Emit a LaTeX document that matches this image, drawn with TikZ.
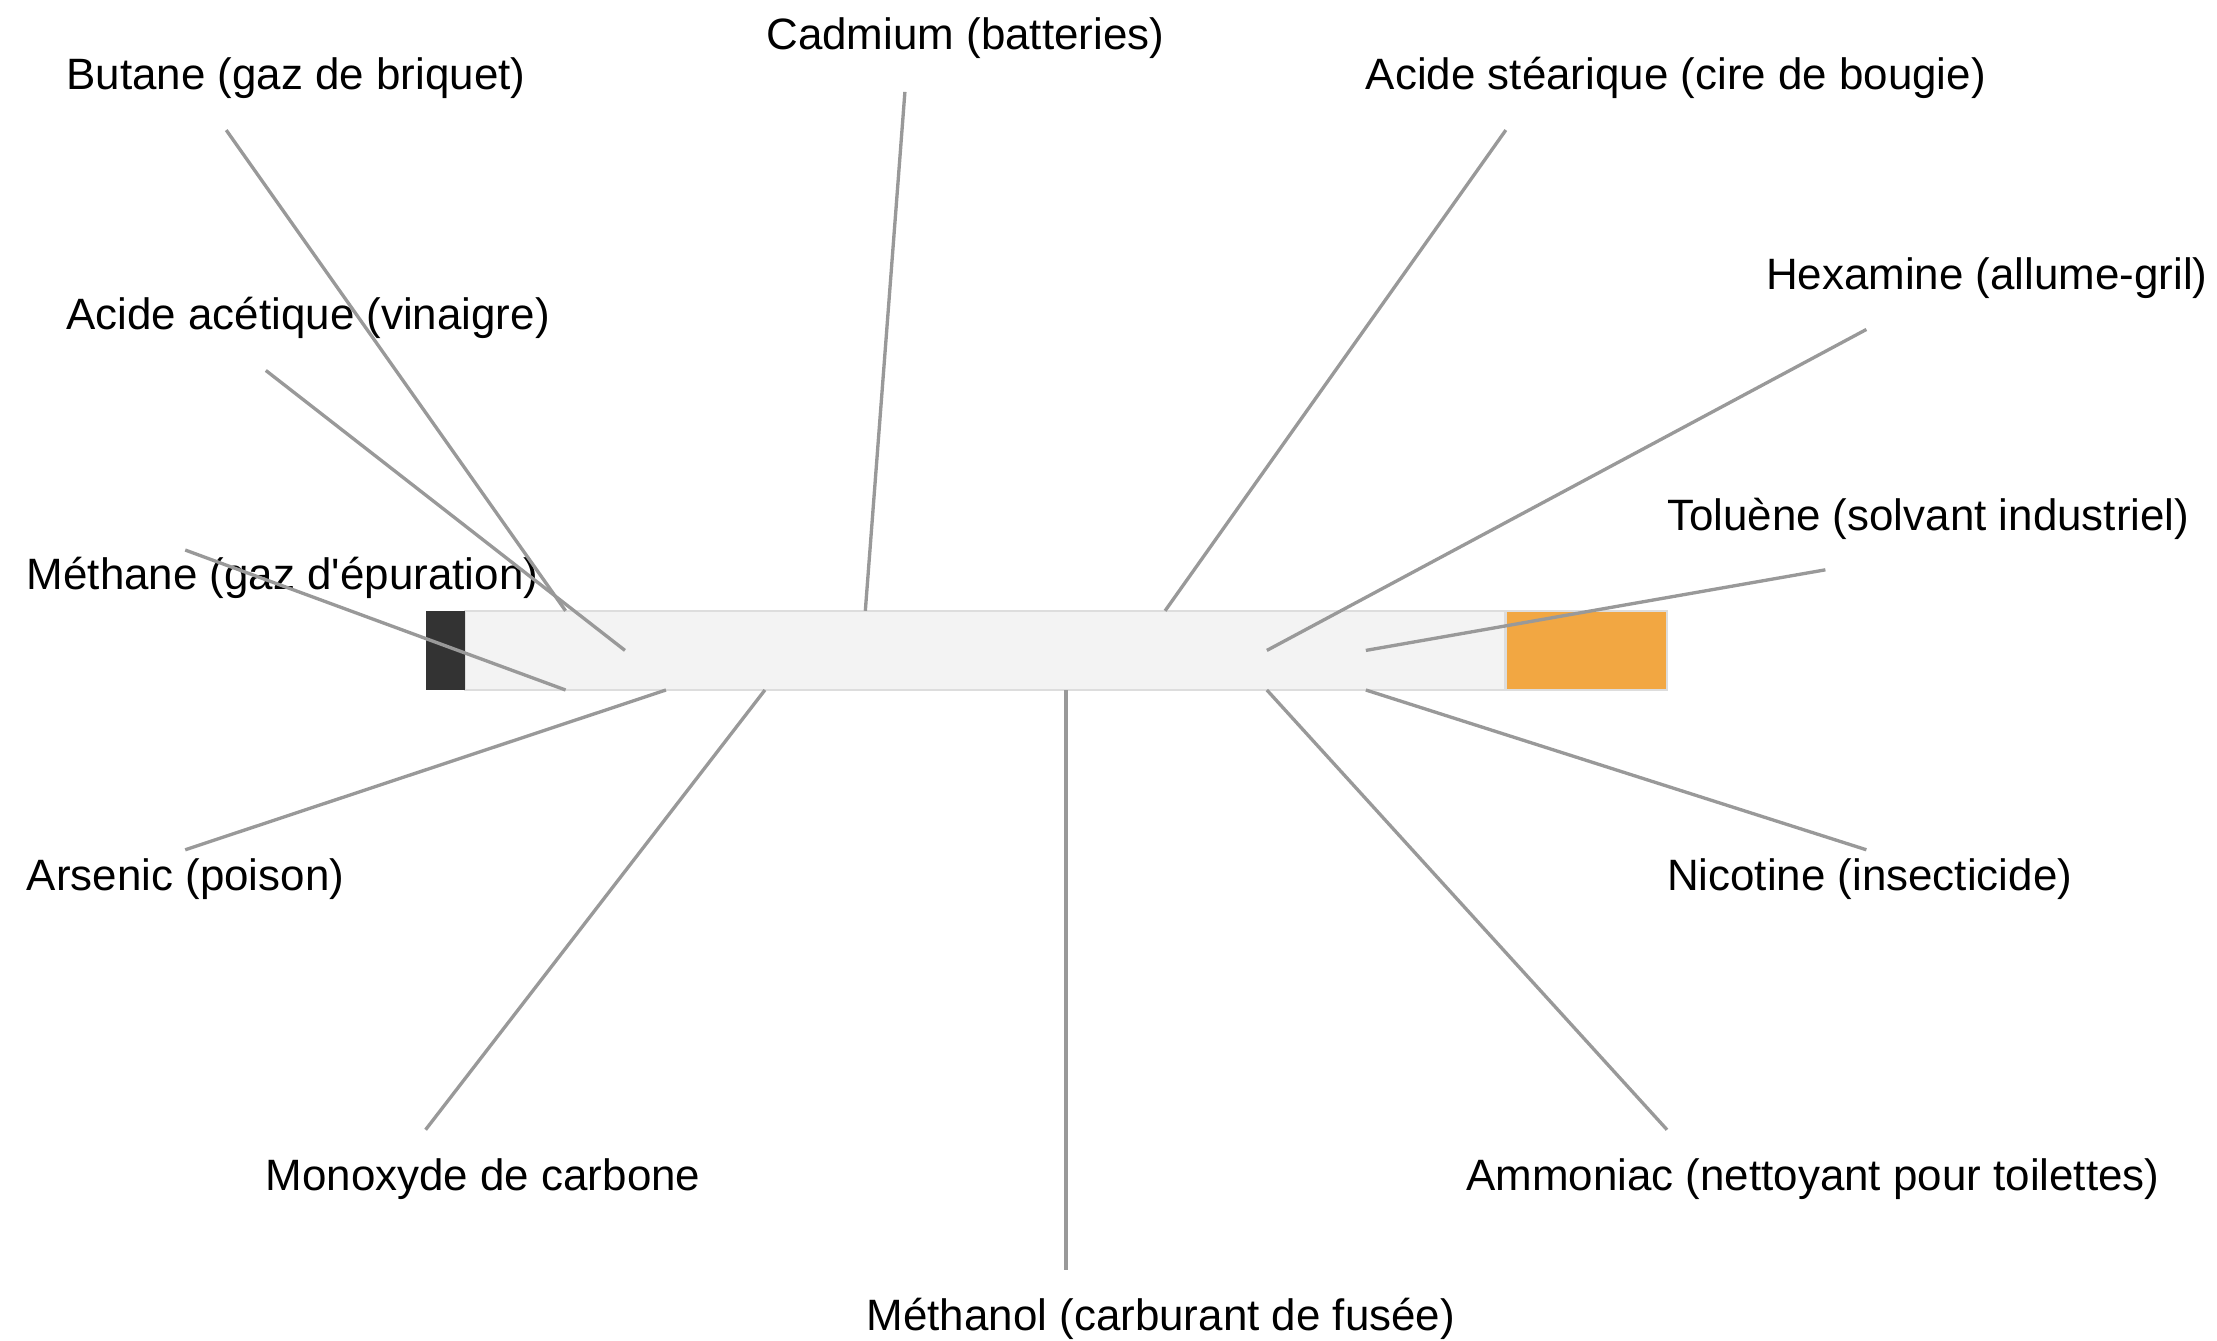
\documentclass[tikz,border=0pt]{standalone}
\usepackage{fontspec}
\setmainfont{Liberation Sans}
\definecolor{filtre}{HTML}{333333}
\definecolor{corps}{HTML}{F3F3F3}
\definecolor{bord}{HTML}{DDDDDD}
\definecolor{braise}{HTML}{F2A742}
\definecolor{trait}{HTML}{999999}
\tikzset{
  lbl/.style={anchor=base west, inner sep=0pt, outer sep=0pt, font=\fontsize{12.5}{15}\selectfont, text=black},
  lien/.style={draw=trait, line width=0.95pt},
  piece/.style={inner sep=0pt, outer sep=0pt, anchor=north west, minimum height=0.7918cm},
}
\begin{document}
\begin{tikzpicture}[x=0.014139cm, y=-0.014139cm]
\useasboundingbox (0,0) rectangle (1568,948);
% cigarette
\node[piece, draw=bord, fill=corps, line width=0.6pt, minimum width=10.406cm] (body) at (329,432) {};
\node[piece, fill=filtre, minimum width=0.3959cm] (filter) at (301,432) {};
\node[piece, fill=braise, draw=bord, line width=0.4pt, minimum width=1.612cm] (tip) at (1065,432) {};
% labels
\node[lbl] (cadmium) at (542,35) {Cadmium (batteries)};
\node[lbl] (butane) at (47,63) {Butane (gaz de briquet)};
\node[lbl] (stearique) at (966,63) {Acide stéarique (cire de bougie)};
\node[lbl] (hexamine) at (1249,205) {Hexamine (allume-gril)};
\node[lbl] (acetique) at (47,233) {Acide acétique (vinaigre)};
\node[lbl] (toluene) at (1179,375) {Toluène (solvant industriel)};
\node[lbl] (methane) at (19,417) {Méthane (gaz d\textquotesingle épuration)};
\node[lbl] (arsenic) at (19,630) {Arsenic (poison)};
\node[lbl] (nicotine) at (1179,630) {Nicotine (insecticide)};
\node[lbl] (monoxyde) at (188,842) {Monoxyde de carbone};
\node[lbl] (ammoniac) at (1037,842) {Ammoniac (nettoyant pour toilettes)};
\node[lbl] (methanol) at (613,941) {Méthanol (carburant de fusée)};
% connector ends
\coordinate (cadmium-a) at (640,65);   \coordinate (cadmium-b) at (612,432);
\coordinate (butane-a) at (160,92);    \coordinate (butane-b) at (400,432);
\coordinate (stearique-a) at (1065,92);\coordinate (stearique-b) at (824,432);
\coordinate (hexamine-a) at (1320,233);\coordinate (hexamine-b) at (896,460);
\coordinate (acetique-a) at (188,262); \coordinate (acetique-b) at (442,460);
\coordinate (toluene-a) at (1291,403); \coordinate (toluene-b) at (966,460);
\coordinate (methane-a) at (131,389);  \coordinate (methane-b) at (400,488);
\coordinate (arsenic-a) at (131,601);  \coordinate (arsenic-b) at (471,488);
\coordinate (nicotine-a) at (1320,601);\coordinate (nicotine-b) at (966,488);
\coordinate (monoxyde-a) at (301,799); \coordinate (monoxyde-b) at (541,488);
\coordinate (ammoniac-a) at (1179,799);\coordinate (ammoniac-b) at (896,488);
\coordinate (methanol-a) at (754,898); \coordinate (methanol-b) at (754,488);
\foreach \n in {cadmium,butane,stearique,hexamine,acetique,toluene,methane,arsenic,nicotine,monoxyde,ammoniac,methanol}
  \draw[lien] (\n-a) -- (\n-b);
\end{tikzpicture}
\end{document}
